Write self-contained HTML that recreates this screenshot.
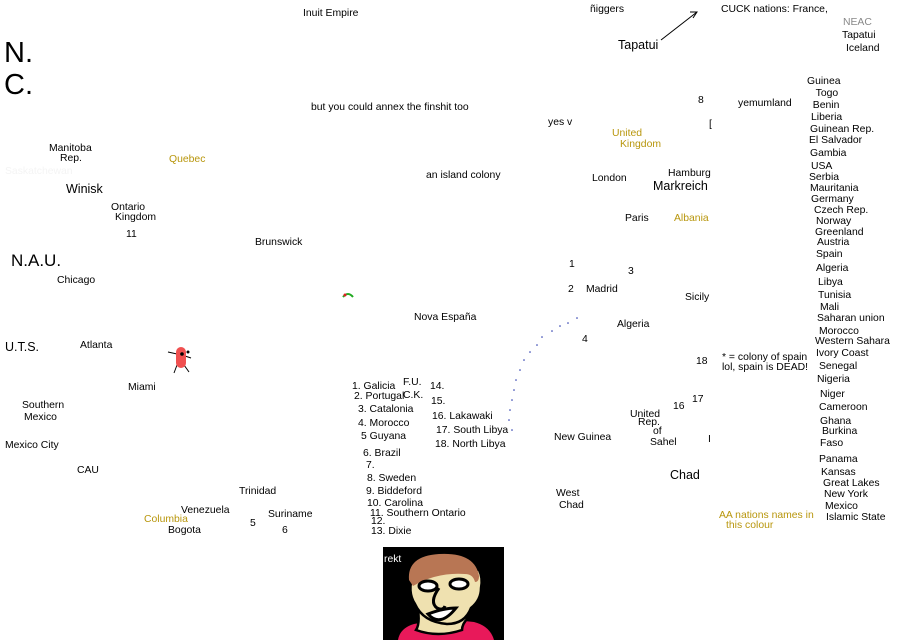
<!DOCTYPE html>
<html><head><meta charset="utf-8"><style>
html,body{margin:0;padding:0;background:#fff;}
body{width:910px;height:640px;position:relative;overflow:hidden;font-family:"Liberation Sans",sans-serif;font-size:10.4px;color:#000;}
.t{position:absolute;white-space:nowrap;line-height:12px;}
.y{color:#b8960c;}
.m{font-size:12.5px;line-height:14px;}
.b{font-size:17px;line-height:19px;}
.h{font-size:29px;line-height:30px;}
.g{color:#888;}
.f{color:#f4f4f4;}
</style></head><body>
<div class="t" style="left:303px;top:8px">Inuit Empire</div>
<div class="t" style="left:590px;top:4px">ñiggers</div>
<div class="t" style="left:721px;top:4px">CUCK nations: France,</div>
<div class="t g" style="left:843px;top:17px">NEAC</div>
<div class="t" style="left:842px;top:30px">Tapatui</div>
<div class="t" style="left:846px;top:43px">Iceland</div>
<div class="t m" style="left:618px;top:38px">Tapatui</div>
<svg style="position:absolute;left:0;top:0" width="910" height="640">
<line x1="661" y1="40" x2="697" y2="12" stroke="#000" stroke-width="1"/>
<polyline points="690,12 697,12 693,18" fill="none" stroke="#000"/>
<g fill="#2233aa"><circle cx="577" cy="318" r="0.8"/><circle cx="568" cy="323" r="0.8"/><circle cx="560" cy="326" r="0.8"/><circle cx="552" cy="331" r="0.8"/><circle cx="542" cy="337" r="0.8"/><circle cx="537" cy="345" r="0.8"/><circle cx="530" cy="352" r="0.8"/><circle cx="524" cy="360" r="0.8"/><circle cx="520" cy="370" r="0.8"/><circle cx="516" cy="380" r="0.8"/><circle cx="514" cy="390" r="0.8"/><circle cx="512" cy="400" r="0.8"/><circle cx="510" cy="410" r="0.8"/><circle cx="509" cy="420" r="0.8"/><circle cx="512" cy="430" r="0.8"/></g>
<g transform="translate(167,345)">
<line x1="1" y1="7" x2="10" y2="9" stroke="#000"/><line x1="18" y1="11" x2="24" y2="13" stroke="#000"/>
<line x1="10" y1="20" x2="7" y2="28" stroke="#000"/><line x1="17" y1="20" x2="22" y2="27" stroke="#000"/>
<rect x="9" y="2" width="10" height="21" rx="5" fill="#f05050"/>
<circle cx="15" cy="9" r="1.8" fill="#000"/><circle cx="21" cy="7" r="1.5" fill="#000"/>
</g>
<path d="M343,297 q5,-6 10,0" stroke="#2a2" stroke-width="2" fill="none"/><circle cx="345" cy="295" r="1.5" fill="#d22"/>
<rect x="383" y="547" width="121" height="93" fill="#000"/>
<path d="M398,640 q2,-12 16,-16 q30,-6 60,-2 q16,4 20,18z" fill="#e8195a"/>
<path d="M418,610 q2,14 -2,20 q22,8 46,0 q0,-6 6,-12z" fill="#efe1b0" stroke="#000" stroke-width="2.5"/>
<path d="M413,574 q-6,18 2,30 q8,18 32,20 q18,0 24,-16 q10,-8 10,-20 q2,-10 -2,-18 q-32,-6 -66,4z" fill="#efe1b0" stroke="#000" stroke-width="2.5"/>
<path d="M409,580 q-2,-24 30,-26 q36,-2 40,22 q0,6 -4,6 q-2,-8 -10,-8 q-28,-2 -52,12z" fill="#b87654"/>
<ellipse cx="428" cy="586" rx="9" ry="5" fill="#fff" stroke="#000" stroke-width="3"/>
<ellipse cx="459" cy="584" rx="9" ry="5" fill="#fff" stroke="#000" stroke-width="3"/>
<path d="M439,588 q-10,14 -2,20 q6,3 8,-2" fill="none" stroke="#000" stroke-width="3"/>
<path d="M428,614 q12,14 28,-6 q-12,0 -28,6z" fill="#fff" stroke="#000" stroke-width="3"/>
</svg>
<div class="t" style="left:384px;top:554px;color:#fff">rekt</div>
<div class="h t" style="left:4px;top:38px">N.</div>
<div class="h t" style="left:4px;top:70px">C.</div>
<div class="t" style="left:311px;top:102px">but you could annex the finshit too</div>
<div class="t" style="left:548px;top:117px">yes v</div>
<div class="t y" style="left:612px;top:128px">United</div>
<div class="t y" style="left:620px;top:139px">Kingdom</div>
<div class="t" style="left:49px;top:143px">Manitoba</div>
<div class="t" style="left:60px;top:153px">Rep.</div>
<div class="t y" style="left:169px;top:154px">Quebec</div>
<div class="t f" style="left:5px;top:166px">Saskatchewan</div>
<div class="t m" style="left:66px;top:182px">Winisk</div>
<div class="t" style="left:111px;top:202px">Ontario</div>
<div class="t" style="left:115px;top:212px">Kingdom</div>
<div class="t" style="left:126px;top:229px">11</div>
<div class="t" style="left:426px;top:170px">an island colony</div>
<div class="t" style="left:592px;top:173px">London</div>
<div class="t" style="left:668px;top:168px">Hamburg</div>
<div class="t m" style="left:653px;top:179px">Markreich</div>
<div class="t" style="left:625px;top:213px">Paris</div>
<div class="t y" style="left:674px;top:213px">Albania</div>
<div class="t" style="left:255px;top:237px">Brunswick</div>
<div class="t b" style="left:11px;top:251px">N.A.U.</div>
<div class="t" style="left:57px;top:275px">Chicago</div>
<div class="t" style="left:569px;top:259px">1</div>
<div class="t" style="left:628px;top:266px">3</div>
<div class="t" style="left:568px;top:284px">2</div>
<div class="t" style="left:586px;top:284px">Madrid</div>
<div class="t" style="left:685px;top:292px">Sicily</div>
<div class="t" style="left:414px;top:312px">Nova España</div>
<div class="t" style="left:617px;top:319px">Algeria</div>
<div class="t" style="left:582px;top:334px">4</div>
<div class="t m" style="left:5px;top:340px">U.T.S.</div>
<div class="t" style="left:80px;top:340px">Atlanta</div>
<div class="t" style="left:696px;top:356px">18</div>
<div class="t" style="left:722px;top:352px">* = colony of spain</div>
<div class="t" style="left:722px;top:362px">lol, spain is DEAD!</div>
<div class="t" style="left:128px;top:382px">Miami</div>
<div class="t" style="left:352px;top:381px">1. Galicia</div>
<div class="t" style="left:354px;top:391px">2. Portugal</div>
<div class="t" style="left:403px;top:377px">F.U.</div>
<div class="t" style="left:403px;top:390px">C.K.</div>
<div class="t" style="left:430px;top:381px">14.</div>
<div class="t" style="left:431px;top:396px">15.</div>
<div class="t" style="left:358px;top:404px">3. Catalonia</div>
<div class="t" style="left:358px;top:418px">4. Morocco</div>
<div class="t" style="left:361px;top:431px">5 Guyana</div>
<div class="t" style="left:363px;top:448px">6. Brazil</div>
<div class="t" style="left:366px;top:460px">7.</div>
<div class="t" style="left:367px;top:473px">8. Sweden</div>
<div class="t" style="left:366px;top:486px">9. Biddeford</div>
<div class="t" style="left:367px;top:498px">10. Carolina</div>
<div class="t" style="left:370px;top:508px">11. Southern Ontario</div>
<div class="t" style="left:371px;top:516px">12.</div>
<div class="t" style="left:371px;top:526px">13. Dixie</div>
<div class="t" style="left:432px;top:411px">16. Lakawaki</div>
<div class="t" style="left:436px;top:425px">17. South Libya</div>
<div class="t" style="left:435px;top:439px">18. North Libya</div>
<div class="t" style="left:22px;top:400px">Southern</div>
<div class="t" style="left:24px;top:412px">Mexico</div>
<div class="t" style="left:5px;top:440px">Mexico City</div>
<div class="t" style="left:77px;top:465px">CAU</div>
<div class="t" style="left:239px;top:486px">Trinidad</div>
<div class="t" style="left:181px;top:505px">Venezuela</div>
<div class="t y" style="left:144px;top:514px">Columbia</div>
<div class="t" style="left:168px;top:525px">Bogota</div>
<div class="t" style="left:250px;top:518px">5</div>
<div class="t" style="left:268px;top:509px">Suriname</div>
<div class="t" style="left:282px;top:525px">6</div>
<div class="t" style="left:630px;top:409px">United</div>
<div class="t" style="left:638px;top:417px">Rep.</div>
<div class="t" style="left:653px;top:426px">of</div>
<div class="t" style="left:650px;top:437px">Sahel</div>
<div class="t" style="left:673px;top:401px">16</div>
<div class="t" style="left:692px;top:394px">17</div>
<div class="t" style="left:554px;top:432px">New Guinea</div>
<div class="t m" style="left:670px;top:468px">Chad</div>
<div class="t" style="left:556px;top:488px">West</div>
<div class="t" style="left:559px;top:500px">Chad</div>
<div class="t y" style="left:719px;top:510px">AA nations names in</div>
<div class="t y" style="left:726px;top:520px">this colour</div>
<div class="t" style="left:698px;top:95px">8</div>
<div class="t" style="left:738px;top:98px">yemumland</div>
<div class="t" style="left:807px;top:76px">Guinea<br>&nbsp;&nbsp;&nbsp;Togo<br>&nbsp;&nbsp;Benin</div>
<div class="t" style="left:811px;top:112px">Liberia</div>
<div class="t" style="left:810px;top:124px">Guinean Rep.</div>
<div class="t" style="left:809px;top:135px">El Salvador</div>
<div class="t" style="left:810px;top:148px">Gambia</div>
<div class="t" style="left:811px;top:161px">USA</div>
<div class="t" style="left:809px;top:172px">Serbia</div>
<div class="t" style="left:810px;top:183px">Mauritania</div>
<div class="t" style="left:811px;top:194px">Germany</div>
<div class="t" style="left:814px;top:205px">Czech Rep.</div>
<div class="t" style="left:816px;top:216px">Norway</div>
<div class="t" style="left:815px;top:227px">Greenland</div>
<div class="t" style="left:817px;top:237px">Austria</div>
<div class="t" style="left:816px;top:249px">Spain</div>
<div class="t" style="left:816px;top:263px">Algeria</div>
<div class="t" style="left:818px;top:277px">Libya</div>
<div class="t" style="left:818px;top:290px">Tunisia</div>
<div class="t" style="left:820px;top:302px">Mali</div>
<div class="t" style="left:817px;top:313px">Saharan union</div>
<div class="t" style="left:819px;top:326px">Morocco</div>
<div class="t" style="left:815px;top:336px">Western Sahara</div>
<div class="t" style="left:816px;top:348px">Ivory Coast</div>
<div class="t" style="left:819px;top:361px">Senegal</div>
<div class="t" style="left:817px;top:374px">Nigeria</div>
<div class="t" style="left:820px;top:389px">Niger</div>
<div class="t" style="left:819px;top:402px">Cameroon</div>
<div class="t" style="left:820px;top:416px">Ghana</div>
<div class="t" style="left:822px;top:426px">Burkina</div>
<div class="t" style="left:820px;top:438px">Faso</div>
<div class="t" style="left:819px;top:454px">Panama</div>
<div class="t" style="left:821px;top:467px">Kansas</div>
<div class="t" style="left:823px;top:478px">Great Lakes</div>
<div class="t" style="left:824px;top:489px">New York</div>
<div class="t" style="left:825px;top:501px">Mexico</div>
<div class="t" style="left:826px;top:512px">Islamic State</div>
<div class="t" style="left:709px;top:119px">[</div>
<div class="t" style="left:708px;top:434px">I</div>
</body></html>
